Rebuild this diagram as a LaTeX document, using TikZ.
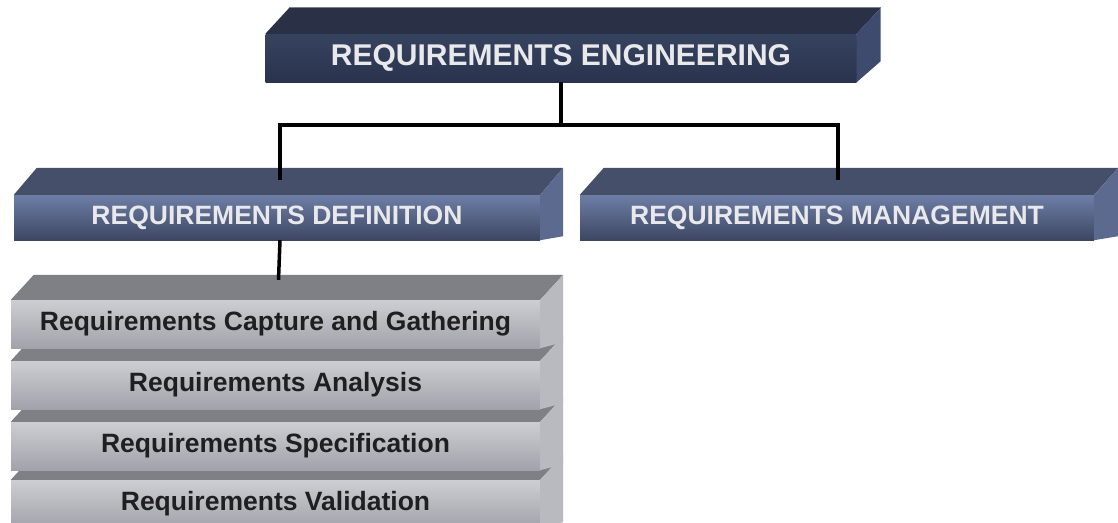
\documentclass[tikz,border=0pt]{standalone}
\usepackage{fontspec}
\setmainfont{Liberation Sans}
\usetikzlibrary{calc}
\definecolor{navyTop}{HTML}{2A3046}
\definecolor{navyEdge}{HTML}{7A7F8C}
\definecolor{navyFrontA}{HTML}{36435F}
\definecolor{navyFrontB}{HTML}{2A334E}
\definecolor{navySide}{HTML}{3E4B6E}
\definecolor{blueTop}{HTML}{454F6A}
\definecolor{blueFrontA}{HTML}{6D7EA6}
\definecolor{blueFrontB}{HTML}{3D4763}
\definecolor{blueSide}{HTML}{5C6A8F}
\definecolor{grayTop}{HTML}{7E8085}
\definecolor{grayFrontA}{HTML}{CDCED3}
\definecolor{grayFrontM}{HTML}{D9DADE}
\definecolor{grayFrontB}{HTML}{A2A3AA}
\definecolor{graySide}{HTML}{B9BAC0}
\definecolor{lightText}{HTML}{E9E9EC}
\definecolor{darkText}{HTML}{1F1F21}
\tikzset{
  conn/.style={draw=black, line width=3.5pt},
  frontbase/.style={rectangle, inner sep=0pt, font=\bfseries},
  navybox/.style={frontbase, top color=navyFrontA, bottom color=navyFrontB, text=lightText, font=\bfseries\fontsize{30}{30}\selectfont},
  bluebox/.style={frontbase, top color=blueFrontA, bottom color=blueFrontB, text=lightText, font=\bfseries\fontsize{26.5}{26.5}\selectfont},
  graybox/.style={frontbase, top color=grayFrontA, middle color=grayFrontM, bottom color=grayFrontB, text=darkText, font=\bfseries\fontsize{26.5}{26.5}\selectfont},
}
% #1 node name, #2 dx, #3 dy, #4 top colour, #5 side colour, #6 rise of side's lower corner
\newcommand{\boxfaces}[6]{%
  \fill[#4] (#1.north west) -- ++(#2,#3) -- ([shift={(#2,#3)}]#1.north east) -- (#1.north east) -- cycle;
  \fill[#5] (#1.north east) -- ++(#2,#3) -- ([shift={(#2,#6)}]#1.south east) -- (#1.south east) -- cycle;
}
\begin{document}
\begin{tikzpicture}[x=1pt,y=-1pt]
\useasboundingbox (0,0) rectangle (1118,522);
% top
\node[navybox, minimum width=591pt, minimum height=48pt] (re) at (561,58) {REQUIREMENTS ENGINEERING};
\boxfaces{re}{24pt}{26pt}{navyTop}{navySide}{21pt}
\draw[navyEdge, line width=1.2pt] ([shift={(24pt,26pt)}]re.north west) -- ([shift={(24pt,26pt)}]re.north east);
% second row
\node[bluebox, minimum width=526pt, minimum height=45pt] (rd) at (277,217.5) {REQUIREMENTS DEFINITION};
\boxfaces{rd}{23pt}{27pt}{blueTop}{blueSide}{4pt}
\node[bluebox, minimum width=514pt, minimum height=45pt] (rm) at (837,217.5) {REQUIREMENTS MANAGEMENT};
\boxfaces{rm}{24pt}{27pt}{blueTop}{blueSide}{4pt}
% stack (bottom first)
\node[graybox, minimum width=529pt, minimum height=48pt] (s4) at (275.5,504) {Requirements Validation};
\boxfaces{s4}{23pt}{25pt}{grayTop}{graySide}{6pt}
\node[graybox, minimum width=529pt, minimum height=48pt] (s3) at (275.5,446) {Requirements Specification};
\boxfaces{s3}{23pt}{25pt}{grayTop}{graySide}{6pt}
\node[graybox, minimum width=529pt, minimum height=48pt] (s2) at (275.5,385) {Requirements Analysis};
\boxfaces{s2}{23pt}{25pt}{grayTop}{graySide}{6pt}
\node[graybox, minimum width=529pt, minimum height=48pt] (s1) at (275.5,324) {Requirements Capture and Gathering};
\boxfaces{s1}{23pt}{25pt}{grayTop}{graySide}{6pt}
% connectors
\coordinate (j) at (re.south |- 0,125);
\coordinate (dEnd) at ($(rd.north)+(3pt,15pt)$);
\coordinate (mEnd) at ($(rm.north)+(1pt,15pt)$);
\coordinate (sEnd) at ($(s1.north)+(3pt,20pt)$);
\draw[conn] (re.south) -- (j);
\draw[conn] (j) -| (dEnd);
\draw[conn] (j) -| (mEnd);
\draw[conn] ($(rd.south)+(3pt,0)$) -- (sEnd);
\end{tikzpicture}
\end{document}
